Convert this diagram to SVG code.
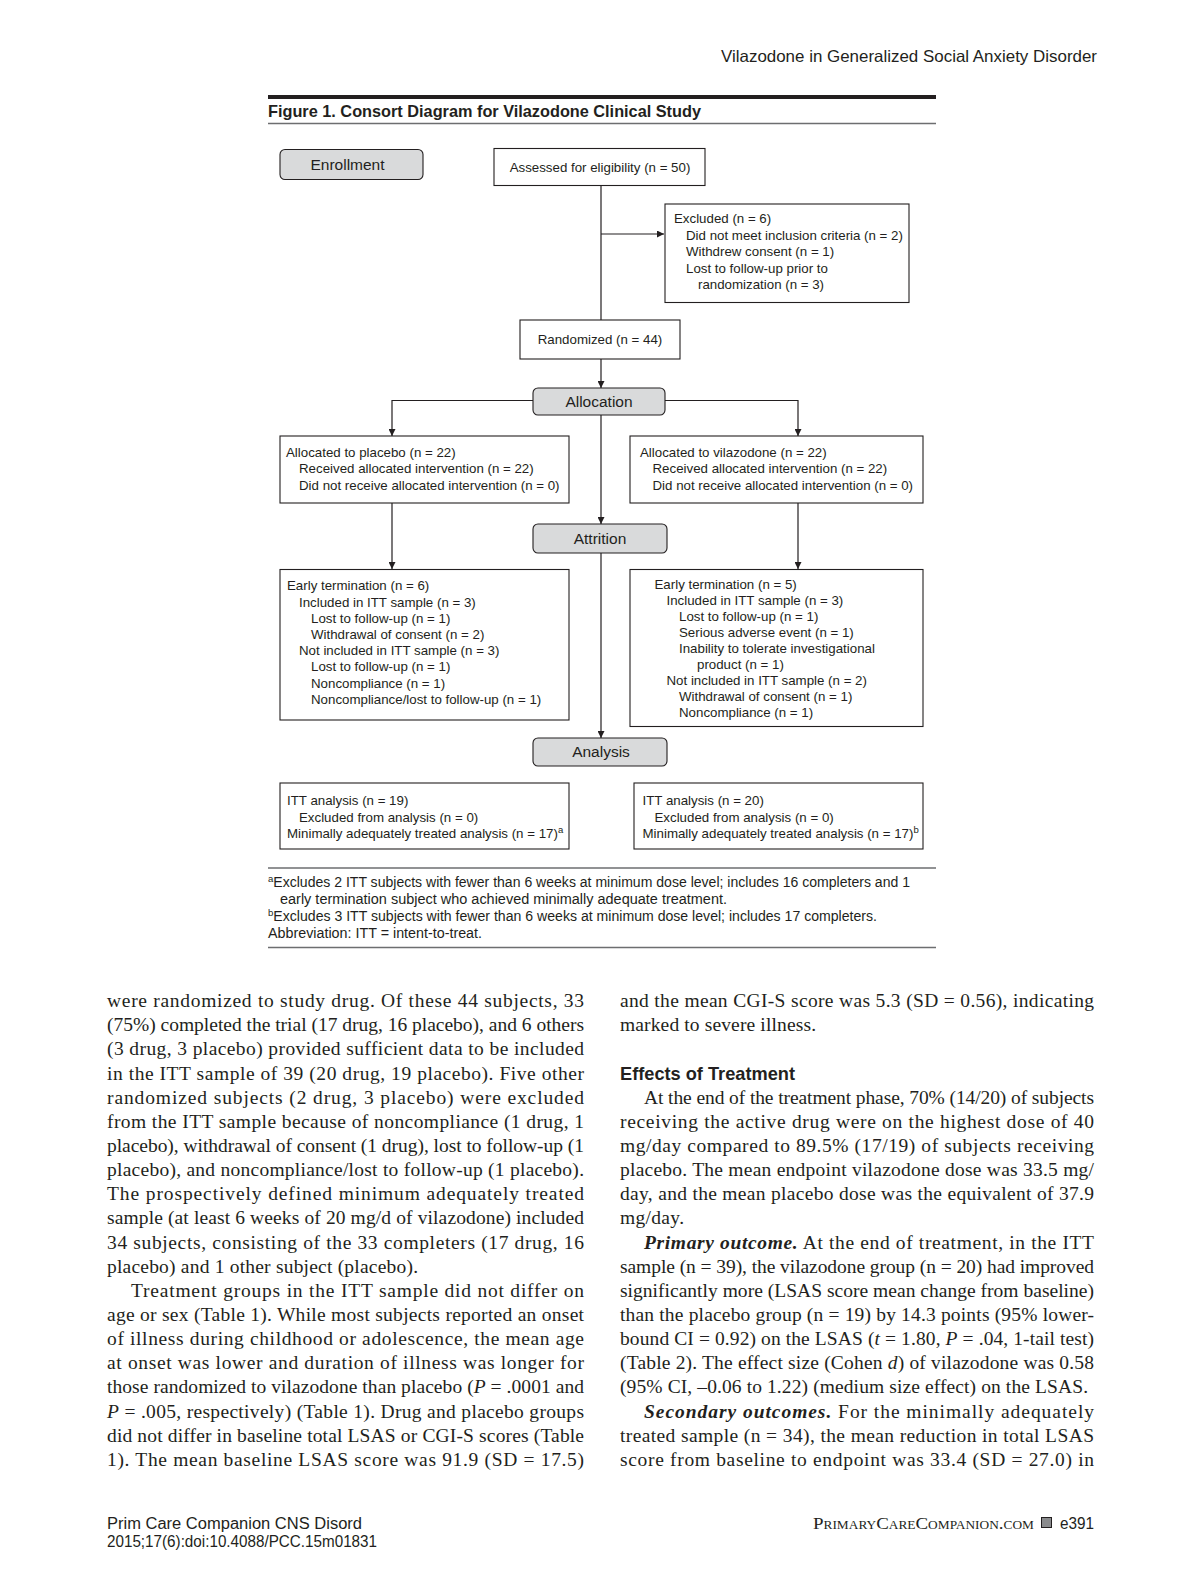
<svg xmlns="http://www.w3.org/2000/svg" width="1183" height="1584" viewBox="0 0 1183 1584">
<style>
.bg{fill:#ffffff}
.box{fill:#ffffff;stroke:#231f20;stroke-width:1.1}
.gbox{fill:#d9dadb;stroke:#231f20;stroke-width:1.1}
.t{font-family:"Liberation Sans",Arial,sans-serif;font-size:13.3px;fill:#231f20}
.lbl{font-family:"Liberation Sans",Arial,sans-serif;font-size:15.5px;fill:#231f20;text-anchor:middle}
.ctr{text-anchor:middle}
.ttl{font-family:"Liberation Sans",Arial,sans-serif;font-size:17px;font-weight:bold;fill:#231f20}
.hdr{font-family:"Liberation Sans",Arial,sans-serif;font-size:16.5px;fill:#231f20}
.fn{font-family:"Liberation Sans",Arial,sans-serif;font-size:14px;fill:#231f20}
.body{font-family:"Liberation Serif","Times New Roman",serif;font-size:19.5px;fill:#231f20}
.head{font-family:"Liberation Sans",Arial,sans-serif;font-size:18.5px;font-weight:bold;fill:#231f20}
.foot{font-family:"Liberation Sans",Arial,sans-serif;font-size:16px;fill:#231f20}
.sc{font-family:"Liberation Serif","Times New Roman",serif;font-size:17px;font-variant:small-caps;fill:#231f20}
.conn{fill:none;stroke:#231f20;stroke-width:1.2}
.rule{stroke:#231f20}
.rule2{stroke:#6d6e70;stroke-width:1.5}
</style>
<defs>
<marker id="arr" viewBox="0 0 10 10" refX="10" refY="5" markerWidth="7" markerHeight="7" markerUnits="userSpaceOnUse" orient="auto">
<path d="M0,0 L10,5 L0,10 Z" fill="#231f20"/>
</marker>
</defs>
<rect class="bg" x="0" y="0" width="1183" height="1584"/>

<!-- page header -->
<text class="hdr" x="1097" y="62" text-anchor="end" textLength="376" lengthAdjust="spacingAndGlyphs">Vilazodone in Generalized Social Anxiety Disorder</text>

<!-- figure title -->
<line class="rule" x1="268" y1="97" x2="936" y2="97" stroke-width="4"/>
<text class="ttl" x="268" y="117" textLength="433" lengthAdjust="spacingAndGlyphs">Figure 1. Consort Diagram for Vilazodone Clinical Study</text>
<line class="rule2" x1="268" y1="123.5" x2="936" y2="123.5"/>

<!-- connectors -->
<g id="connectors">
<path class="conn" d="M601,186 V320"/>
<path class="conn" d="M601,234 H664" marker-end="url(#arr)"/>
<path class="conn" d="M601,359 V388" marker-end="url(#arr)"/>
<path class="conn" d="M533,400.5 H392 V436" marker-end="url(#arr)"/>
<path class="conn" d="M665,400.5 H798 V436" marker-end="url(#arr)" stroke-width="1.6"/>
<path class="conn" d="M601,415 V524" marker-end="url(#arr)"/>
<path class="conn" d="M392,503 V569" marker-end="url(#arr)"/>
<path class="conn" d="M798,503 V569" marker-end="url(#arr)"/>
<path class="conn" d="M601,553 V738" marker-end="url(#arr)"/>
</g>

<g id="enrollment">
<rect class="gbox" x="280" y="149.5" width="143" height="30" rx="5"/>
<text class="lbl" x="347.5" y="170">Enrollment</text>
</g>

<g id="assessed">
<rect class="box" x="494" y="148.5" width="211" height="37"/>
<text class="t ctr" x="600" y="172">Assessed for eligibility (n = 50)</text>
</g>

<g id="excluded">
<rect class="box" x="665" y="204" width="244" height="98.5"/>
<text class="t" x="674" y="223">Excluded (n = 6)</text>
<text class="t" x="686" y="239.5">Did not meet inclusion criteria (n = 2)</text>
<text class="t" x="686" y="256">Withdrew consent (n = 1)</text>
<text class="t" x="686" y="272.5">Lost to follow-up prior to</text>
<text class="t" x="698" y="288.5">randomization (n = 3)</text>
</g>

<g id="randomized">
<rect class="box" x="520" y="320" width="160" height="39"/>
<text class="t ctr" x="600" y="343.5">Randomized (n = 44)</text>
</g>

<g id="allocation">
<rect class="gbox" x="533" y="388" width="132" height="27" rx="5"/>
<text class="lbl" x="599" y="406.5">Allocation</text>
</g>

<g id="alloc-placebo">
<rect class="box" x="280" y="436" width="289" height="67"/>
<text class="t" x="286" y="457">Allocated to placebo (n = 22)</text>
<text class="t" x="299" y="473">Received allocated intervention (n = 22)</text>
<text class="t" x="299" y="489.5">Did not receive allocated intervention (n = 0)</text>
</g>

<g id="alloc-vilazodone">
<rect class="box" x="630" y="436" width="293" height="67"/>
<text class="t" x="640" y="457">Allocated to vilazodone (n = 22)</text>
<text class="t" x="652.5" y="473">Received allocated intervention (n = 22)</text>
<text class="t" x="652.5" y="489.5">Did not receive allocated intervention (n = 0)</text>
</g>

<g id="attrition">
<rect class="gbox" x="533" y="524" width="134" height="29" rx="5"/>
<text class="lbl" x="600" y="543.5">Attrition</text>
</g>

<g id="early-placebo">
<rect class="box" x="280" y="569.5" width="289" height="150.5"/>
<text class="t" x="287" y="590">Early termination (n = 6)</text>
<text class="t" x="299" y="606.5">Included in ITT sample (n = 3)</text>
<text class="t" x="311" y="623">Lost to follow-up (n = 1)</text>
<text class="t" x="311" y="639.3">Withdrawal of consent (n = 2)</text>
<text class="t" x="299" y="655.3">Not included in ITT sample (n = 3)</text>
<text class="t" x="311" y="671.3">Lost to follow-up (n = 1)</text>
<text class="t" x="311" y="687.5">Noncompliance (n = 1)</text>
<text class="t" x="311" y="704">Noncompliance/lost to follow-up (n = 1)</text>
</g>

<g id="early-vilazodone">
<rect class="box" x="630" y="569.5" width="293" height="157"/>
<text class="t" x="654.5" y="588.5">Early termination (n = 5)</text>
<text class="t" x="666.5" y="604.5">Included in ITT sample (n = 3)</text>
<text class="t" x="679" y="620.5">Lost to follow-up (n = 1)</text>
<text class="t" x="679" y="636.5">Serious adverse event (n = 1)</text>
<text class="t" x="679" y="652.7">Inability to tolerate investigational</text>
<text class="t" x="697" y="668.7">product (n = 1)</text>
<text class="t" x="666.5" y="685">Not included in ITT sample (n = 2)</text>
<text class="t" x="679" y="701">Withdrawal of consent (n = 1)</text>
<text class="t" x="679" y="717">Noncompliance (n = 1)</text>
</g>

<g id="analysis">
<rect class="gbox" x="533" y="738" width="134" height="28" rx="5"/>
<text class="lbl" x="601" y="757">Analysis</text>
</g>

<g id="itt-placebo">
<rect class="box" x="280" y="783" width="289" height="66"/>
<text class="t" x="287" y="805">ITT analysis (n = 19)</text>
<text class="t" x="299" y="821.5">Excluded from analysis (n = 0)</text>
<text class="t" x="287" y="838">Minimally adequately treated analysis (n = 17)<tspan font-size="9.5" dy="-5">a</tspan></text>
</g>

<g id="itt-vilazodone">
<rect class="box" x="634" y="783" width="289" height="66"/>
<text class="t" x="642.5" y="805">ITT analysis (n = 20)</text>
<text class="t" x="654.5" y="821.5">Excluded from analysis (n = 0)</text>
<text class="t" x="642.5" y="838">Minimally adequately treated analysis (n = 17)<tspan font-size="9.5" dy="-5">b</tspan></text>
</g>

<!-- footnotes -->
<line class="rule2" x1="268" y1="868" x2="936" y2="868"/>
<text class="fn" x="268" y="886.5" textLength="642" lengthAdjust="spacingAndGlyphs"><tspan font-size="9.5" dy="-5">a</tspan><tspan dy="5">Excludes 2 ITT subjects with fewer than 6 weeks at minimum dose level; includes 16 completers and 1</tspan></text>
<text class="fn" x="280" y="903.5" textLength="447" lengthAdjust="spacingAndGlyphs">early termination subject who achieved minimally adequate treatment.</text>
<text class="fn" x="268" y="920.5" textLength="609" lengthAdjust="spacingAndGlyphs"><tspan font-size="9.5" dy="-5">b</tspan><tspan dy="5">Excludes 3 ITT subjects with fewer than 6 weeks at minimum dose level; includes 17 completers.</tspan></text>
<text class="fn" x="268" y="937.5" textLength="214" lengthAdjust="spacingAndGlyphs">Abbreviation: ITT = intent-to-treat.</text>
<line class="rule2" x1="268" y1="947.5" x2="936" y2="947.5"/>

<!-- body text left column -->
<g id="body-left" class="body">
<text x="107" y="1007" textLength="477" lengthAdjust="spacing">were randomized to study drug. Of these 44 subjects, 33</text>
<text x="107" y="1031.2" textLength="477" lengthAdjust="spacing">(75%) completed the trial (17 drug, 16 placebo), and 6 others</text>
<text x="107" y="1055.3" textLength="477" lengthAdjust="spacing">(3 drug, 3 placebo) provided sufficient data to be included</text>
<text x="107" y="1079.5" textLength="477" lengthAdjust="spacing">in the ITT sample of 39 (20 drug, 19 placebo). Five other</text>
<text x="107" y="1103.6" textLength="477" lengthAdjust="spacing">randomized subjects (2 drug, 3 placebo) were excluded</text>
<text x="107" y="1127.8" textLength="477" lengthAdjust="spacing">from the ITT sample because of noncompliance (1 drug, 1</text>
<text x="107" y="1151.9" textLength="477" lengthAdjust="spacing">placebo), withdrawal of consent (1 drug), lost to follow-up (1</text>
<text x="107" y="1176.1" textLength="477" lengthAdjust="spacing">placebo), and noncompliance/lost to follow-up (1 placebo).</text>
<text x="107" y="1200.2" textLength="477" lengthAdjust="spacing">The prospectively defined minimum adequately treated</text>
<text x="107" y="1224.4" textLength="477" lengthAdjust="spacing">sample (at least 6 weeks of 20 mg/d of vilazodone) included</text>
<text x="107" y="1248.5" textLength="477" lengthAdjust="spacing">34 subjects, consisting of the 33 completers (17 drug, 16</text>
<text x="107" y="1272.7" textLength="311" lengthAdjust="spacing">placebo) and 1 other subject (placebo).</text>
<text x="131" y="1296.8" textLength="453" lengthAdjust="spacing">Treatment groups in the ITT sample did not differ on</text>
<text x="107" y="1321" textLength="477" lengthAdjust="spacing">age or sex (Table 1). While most subjects reported an onset</text>
<text x="107" y="1345.1" textLength="477" lengthAdjust="spacing">of illness during childhood or adolescence, the mean age</text>
<text x="107" y="1369.3" textLength="477" lengthAdjust="spacing">at onset was lower and duration of illness was longer for</text>
<text x="107" y="1393.4" textLength="477" lengthAdjust="spacing">those randomized to vilazodone than placebo (<tspan font-style="italic">P</tspan> = .0001 and</text>
<text x="107" y="1417.6" textLength="477" lengthAdjust="spacing"><tspan font-style="italic">P</tspan> = .005, respectively) (Table 1). Drug and placebo groups</text>
<text x="107" y="1441.7" textLength="477" lengthAdjust="spacing">did not differ in baseline total LSAS or CGI-S scores (Table</text>
<text x="107" y="1465.9" textLength="477" lengthAdjust="spacing">1). The mean baseline LSAS score was 91.9 (SD = 17.5)</text>
</g>

<!-- body text right column -->
<g id="body-right" class="body">
<text x="620" y="1007" textLength="474" lengthAdjust="spacing">and the mean CGI-S score was 5.3 (SD = 0.56), indicating</text>
<text x="620" y="1031.2" textLength="196" lengthAdjust="spacing">marked to severe illness.</text>
<text class="head" x="620" y="1079.5" textLength="175" lengthAdjust="spacingAndGlyphs">Effects of Treatment</text>
<text x="644" y="1103.6" textLength="450" lengthAdjust="spacing">At the end of the treatment phase, 70% (14/20) of subjects</text>
<text x="620" y="1127.8" textLength="474" lengthAdjust="spacing">receiving the active drug were on the highest dose of 40</text>
<text x="620" y="1151.9" textLength="474" lengthAdjust="spacing">mg/day compared to 89.5% (17/19) of subjects receiving</text>
<text x="620" y="1176.1" textLength="474" lengthAdjust="spacing">placebo. The mean endpoint vilazodone dose was 33.5 mg/</text>
<text x="620" y="1200.2" textLength="474" lengthAdjust="spacing">day, and the mean placebo dose was the equivalent of 37.9</text>
<text x="620" y="1224.4" textLength="64" lengthAdjust="spacing">mg/day.</text>
<text x="644" y="1248.5" textLength="450" lengthAdjust="spacing"><tspan font-weight="bold" font-style="italic">Primary outcome.</tspan> At the end of treatment, in the ITT</text>
<text x="620" y="1272.7" textLength="474" lengthAdjust="spacing">sample (n = 39), the vilazodone group (n = 20) had improved</text>
<text x="620" y="1296.8" textLength="474" lengthAdjust="spacing">significantly more (LSAS score mean change from baseline)</text>
<text x="620" y="1321" textLength="474" lengthAdjust="spacing">than the placebo group (n = 19) by 14.3 points (95% lower-</text>
<text x="620" y="1345.1" textLength="474" lengthAdjust="spacing">bound CI = 0.92) on the LSAS (<tspan font-style="italic">t</tspan> = 1.80, <tspan font-style="italic">P</tspan> = .04, 1-tail test)</text>
<text x="620" y="1369.3" textLength="474" lengthAdjust="spacing">(Table 2). The effect size (Cohen <tspan font-style="italic">d</tspan>) of vilazodone was 0.58</text>
<text x="620" y="1393.4" textLength="468" lengthAdjust="spacing">(95% CI, –0.06 to 1.22) (medium size effect) on the LSAS.</text>
<text x="644" y="1417.6" textLength="450" lengthAdjust="spacing"><tspan font-weight="bold" font-style="italic">Secondary outcomes.</tspan> For the minimally adequately</text>
<text x="620" y="1441.7" textLength="474" lengthAdjust="spacing">treated sample (n = 34), the mean reduction in total LSAS</text>
<text x="620" y="1465.9" textLength="474" lengthAdjust="spacing">score from baseline to endpoint was 33.4 (SD = 27.0) in</text>
</g>

<!-- page footer -->
<text class="foot" x="107" y="1529" textLength="255" lengthAdjust="spacingAndGlyphs">Prim Care Companion CNS Disord</text>
<text class="foot" x="107" y="1547" textLength="270" lengthAdjust="spacingAndGlyphs">2015;17(6):doi:10.4088/PCC.15m01831</text>
<text class="sc" x="813" y="1529" textLength="221" lengthAdjust="spacingAndGlyphs">PrimaryCareCompanion.com</text>
<rect x="1041.5" y="1517.5" width="10" height="10" fill="#8a8b8d" stroke="#231f20" stroke-width="1"/>
<text class="foot" x="1094" y="1529" text-anchor="end" textLength="34" lengthAdjust="spacingAndGlyphs">e391</text>
</svg>
